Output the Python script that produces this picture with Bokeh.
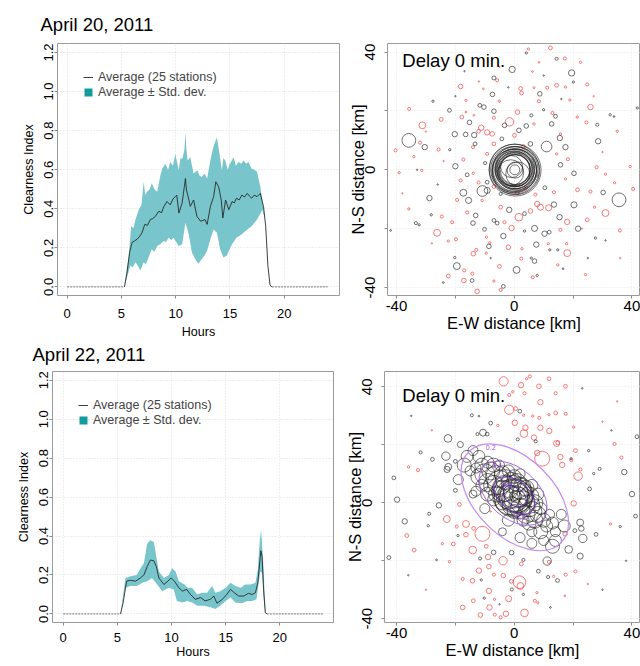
from bokeh.plotting import figure
from bokeh.layouts import column, row
from bokeh.models import Legend, LegendItem, FixedTicker, PrintfTickFormatter, Label, Title
from bokeh.core.properties import value
from bokeh.embed import file_html
from bokeh.resources import INLINE

FONT = "Liberation Sans"
TEAL_BAND = "#79c5cc"
TEAL_KEY = "#119c9c"
RED = "#f24848"
BLACK = "#2e2e2e"
SIZE_SCALE = 1.15
NAN = float("nan")

# ---------------- time-series data (hours, clearness index) ----------------
hour_ticks = [0, 5, 10, 15, 20]
ci_ticks = [0.0, 0.2, 0.4, 0.6, 0.8, 1.0, 1.2]

apr20_hours = [0.0, 5.28, 5.52, 5.77, 5.98, 6.2, 6.44, 6.7, 6.9, 7.15, 7.4, 7.67, 7.9, 8.13, 8.44,
               8.7, 8.9, 9.2, 9.5, 9.75, 9.97, 10.1, 10.3, 10.6, 10.9, 11.0, 11.2, 11.35, 11.65,
               11.96, 12.3, 12.7, 12.9, 13.2, 13.5, 13.7, 13.96, 14.2, 14.35, 14.6, 14.9, 15.2,
               15.4, 15.6, 15.85, 16.1, 16.35, 16.6, 16.8, 17.0, 17.25, 17.5, 17.8, 18.1, 18.3,
               18.5, 18.7, 18.87, 24.0]
apr20_mean = [0, 0, 0.076, 0.18, 0.227, 0.235, 0.244, 0.26, 0.277, 0.32, 0.315, 0.345, 0.35,
              0.361, 0.387, 0.38, 0.41, 0.437, 0.42, 0.45, 0.462, 0.47, 0.378, 0.43, 0.555, 0.496,
              0.45, 0.412, 0.445, 0.361, 0.336, 0.345, 0.32, 0.412, 0.462, 0.538, 0.513, 0.445,
              0.353, 0.445, 0.395, 0.437, 0.43, 0.454, 0.445, 0.47, 0.46, 0.479, 0.465, 0.454,
              0.47, 0.462, 0.479, 0.41, 0.31, 0.109, 0.008, 0, 0]
apr20_upper = [(5.28, 0), (5.67, 0.16), (5.9, 0.31), (6.1, 0.30), (6.3, 0.345), (6.6, 0.395),
               (6.85, 0.42), (7.05, 0.538), (7.2, 0.47), (7.36, 0.487), (7.6, 0.5), (7.8, 0.53),
               (8.05, 0.5), (8.3, 0.487), (8.55, 0.56), (8.75, 0.605), (9.05, 0.63), (9.3, 0.6),
               (9.5, 0.64), (9.75, 0.62), (9.97, 0.68), (10.28, 0.597), (10.45, 0.66),
               (10.6, 0.655), (10.8, 0.7), (10.9, 0.79), (11.0, 0.7), (11.1, 0.647),
               (11.35, 0.664), (11.65, 0.58), (12.0, 0.597), (12.2, 0.57), (12.4, 0.563),
               (12.65, 0.58), (12.9, 0.555), (13.2, 0.647), (13.4, 0.7), (13.56, 0.73),
               (13.8, 0.765), (14.0, 0.697), (14.26, 0.597), (14.4, 0.66), (14.57, 0.647),
               (14.8, 0.6), (15.0, 0.63), (15.34, 0.664), (15.55, 0.62), (15.8, 0.64),
               (16.05, 0.63), (16.26, 0.647), (16.5, 0.63), (16.7, 0.64), (17.0, 0.605),
               (17.25, 0.6), (17.5, 0.59), (17.8, 0.513), (18.1, 0.403), (18.34, 0.294),
               (18.5, 0.11), (18.7, 0)]
apr20_lower = [(5.28, 0), (5.52, 0.05), (5.83, 0.11), (6.05, 0.1), (6.3, 0.126), (6.5, 0.11),
               (6.75, 0.084), (7.05, 0.126), (7.25, 0.115), (7.5, 0.151), (7.8, 0.193),
               (8.05, 0.18), (8.3, 0.21), (8.6, 0.22), (8.9, 0.235), (9.1, 0.23), (9.36, 0.252),
               (9.6, 0.24), (9.8, 0.252), (10.05, 0.23), (10.28, 0.21), (10.6, 0.218),
               (10.9, 0.328), (11.2, 0.269), (11.5, 0.176), (11.8, 0.143), (12.1, 0.118),
               (12.4, 0.143), (12.65, 0.16), (12.9, 0.185), (13.2, 0.244), (13.5, 0.294),
               (13.8, 0.277), (14.1, 0.193), (14.4, 0.151), (14.7, 0.16), (14.95, 0.19),
               (15.2, 0.218), (15.6, 0.252), (16.1, 0.269), (16.6, 0.294), (17.0, 0.31),
               (17.5, 0.345), (18.0, 0.395), (18.3, 0.328), (18.5, 0.11), (18.7, 0)]

apr22_hours = [0.0, 5.29, 5.54, 5.85, 6.2, 6.68, 7.14, 7.45, 7.75, 8.06, 8.37, 8.6, 8.83, 9.3,
               9.66, 9.97, 10.28, 10.68, 11.0, 11.4, 11.75, 12.2, 12.7, 13.1, 13.6, 13.9, 14.2,
               14.7, 15.1, 15.45, 15.8, 16.2, 16.7, 17.1, 17.45, 17.75, 17.97, 18.25, 18.37,
               18.5, 18.66, 18.8, 24.0]
apr22_mean = [0, 0, 0.059, 0.168, 0.173, 0.168, 0.185, 0.2, 0.243, 0.277, 0.273, 0.243, 0.185,
              0.151, 0.168, 0.185, 0.168, 0.134, 0.117, 0.126, 0.1, 0.075, 0.084, 0.067, 0.075,
              0.092, 0.055, 0.075, 0.1, 0.126, 0.109, 0.092, 0.092, 0.106, 0.1, 0.109, 0.16,
              0.325, 0.294, 0.126, 0.008, 0, 0]
apr22_upper = [(5.29, 0), (5.75, 0.185), (6.2, 0.193), (6.8, 0.2), (7.14, 0.235), (7.45, 0.26),
               (7.75, 0.36), (8.06, 0.378), (8.37, 0.37), (8.6, 0.294), (8.83, 0.218),
               (9.3, 0.185), (9.75, 0.2), (10.06, 0.235), (10.37, 0.218), (10.68, 0.168),
               (11.2, 0.151), (11.5, 0.134), (11.9, 0.134), (12.37, 0.1), (12.8, 0.109),
               (13.3, 0.109), (13.75, 0.143), (14.05, 0.109), (14.5, 0.117), (15.0, 0.134),
               (15.45, 0.16), (15.9, 0.143), (16.4, 0.134), (16.8, 0.151), (17.3, 0.151),
               (17.75, 0.16), (17.97, 0.227), (18.15, 0.378), (18.28, 0.43), (18.46, 0.277),
               (18.6, 0.109), (18.7, 0)]
apr22_lower = [(5.29, 0), (5.75, 0.134), (6.2, 0.143), (6.8, 0.143), (7.3, 0.16), (7.75, 0.168),
               (8.2, 0.185), (8.68, 0.151), (9.14, 0.117), (9.75, 0.134), (10.2, 0.126),
               (10.5, 0.067), (11.0, 0.059), (11.45, 0.067), (11.9, 0.059), (12.37, 0.042),
               (13.0, 0.042), (13.6, 0.034), (14.05, 0.025), (14.5, 0.042), (15.0, 0.067),
               (15.45, 0.084), (15.9, 0.059), (16.5, 0.055), (17.0, 0.067), (17.45, 0.067),
               (17.85, 0.075), (18.05, 0.16), (18.2, 0.218), (18.37, 0.21), (18.5, 0.092),
               (18.66, 0)]

# ---------------- scatter data (E-W km, N-S km, marker diameter px) ----------------
km_ticks = [-40, -20, 0, 20, 40]
km_labels = ["-40", "", "0", "", "40"]

apr20_red = [(12.3, 41.4, 3.3), (4.8, 41.0, 2), (17.2, 37.8, 2.7), (22.5, 36.5, 2), (8.4, 36.5, 1.5),
             (6.2, 33.4, 1.5), (-5.8, 30.4, 2.7), (14.4, 28.7, 3.3), (-18.2, 28.3, 4), (2.2, 27.6, 3.3),
             (6.7, 27.9, 1.7), (17.4, 28.1, 2), (24.8, 29.0, 2.7), (11.2, 27.9, 2.7), (-10.5, 27.5, 1.5),
             (2.5, 26.1, 3.3), (-16.4, 23.6, 2), (-5.1, 23.3, 2), (-35.7, 20.7, 2.7), (1.1, 19.6, 4),
             (25.9, 21.3, 4.7), (18.9, 23.7, 2), (-16.4, 19.6, 1.5), (-13.7, 18.5, 1.5), (-17.8, 17.9, 3.3),
             (21.4, 17.9, 2), (8.4, 23.3, 2.7), (13.0, 19.3, 2.7), (-24.8, 17.1, 3.3), (-1.6, 16.3, 7.3),
             (-6.9, 17.7, 2.7), (6.7, 15.6, 2), (-31.2, 15.1, 6), (-11.2, 14.3, 4.7), (-9.2, 12.7, 4.7),
             (-7.5, 12.2, 4), (-12.1, 13.1, 3.3), (0.1, 11.7, 3.3), (24.5, 16.1, 2.7), (15.7, 12.2, 2),
             (35.0, 13.1, 2), (-32.0, 9.2, 2.7), (-40.3, 6.6, 2.7), (-25.7, 6.9, 2.7), (-14.0, 7.7, 2.7),
             (-6.9, 8.8, 3.3), (-9.2, 5.4, 2.7), (3.1, 7.9, 3.3), (14.4, 5.4, 2), (-17.3, 3.5, 2.7),
             (-34.1, 4.5, 2), (18.2, 3.6, 2.7), (28.0, 0.9, 2.7), (39.4, 1.1, 2), (-39.1, -1.0, 2),
             (-31.4, -0.2, 2), (-13.9, -1.2, 2), (-18.2, -3.6, 2.7), (-12.1, -4.3, 2.7), (17.4, -3.1, 2),
             (21.5, -6.8, 3.3), (31.0, -1.5, 2), (34.1, -4.4, 2), (40.4, -6.5, 2.7), (25.9, -7.4, 2.7),
             (-6.9, -5.7, 3.3), (1.0, -7.8, 3.3), (3.9, -6.1, 2.7), (13.5, -7.6, 2.7), (7.2, -8.4, 2.7),
             (-19.4, -10.2, 2.7), (-10.9, -10.4, 2), (7.8, -11.6, 4.7), (8.9, -12.7, 5.3), (11.7, -12.9, 5.3),
             (-4.6, -12.7, 3.3), (5.5, -14.0, 4), (31.0, -14.7, 6), (1.6, -16.1, 6.7), (-24.6, -15.9, 2.7),
             (-16.0, -14.5, 2.7), (-35.8, -13.3, 2), (27.3, -12.7, 2), (-21.1, -17.8, 2.7), (-3.3, -17.8, 2.7),
             (-0.9, -19.8, 4.7), (18.0, -17.7, 4.7), (24.8, -17.0, 3.3), (-26.2, -21.4, 6), (15.7, -20.4, 2.7),
             (-19.8, -23.6, 2.7), (-9.4, -22.9, 2), (35.9, -20.6, 2.7), (-2.0, -26.3, 4), (-12.9, -27.2, 2.7),
             (-8.3, -24.8, 2), (11.6, -25.1, 2), (17.8, -25.1, 2), (18.0, -28.3, 6), (-22.4, -24.2, 2),
             (2.6, -26.8, 2), (-13.9, -28.5, 4), (-9.5, -28.3, 2), (2.4, -30.2, 2.7), (-17.0, -34.2, 2.7),
             (-5.0, -32.8, 3.3), (14.8, -32.3, 2), (-22.4, -36.1, 3.3), (-14.2, -35.3, 2.7), (6.3, -36.5, 2.7),
             (-17.1, -37.6, 4), (-6.9, -37.8, 2), (-4.6, -40.8, 2.7), (-12.6, -41.3, 4), (24.2, -35.6, 2),
             (-30.0, 13.0, 1.2), (-24.0, 3.0, 1.2), (-38.0, -8.0, 1.2), (-12.0, 30.0, 1.2), (8.0, -2.0, 1.2),
             (23.0, -20.0, 1.2), (30.0, 6.0, 1.2), (36.0, -30.0, 1.2), (-5.0, 35.0, 1.2), (27.0, 25.0, 1.2),
             (-28.0, -25.0, 1.2)]

apr20_black = [(4.1, 39.7, 2), (14.4, 37.7, 2.7), (-16.9, 33.5, 1.2), (-0.7, 34.1, 5.5), (19.5, 32.9, 5.5),
               (-6.9, 31.2, 3.5), (20.1, 29.8, 2), (8.7, 25.8, 4), (-7.4, 25.6, 4), (-27.6, 23.3, 2),
               (-11.7, 21.9, 3.3), (-10.3, 21.3, 4), (-22.0, 20.2, 3.3), (-6.9, 19.9, 4), (5.8, 18.5, 2.7),
               (10.0, 20.4, 2), (14.0, 18.2, 3.3), (32.6, 18.7, 2), (33.9, 18.1, 1.5), (-15.2, 16.1, 4),
               (-3.3, 15.1, 4), (4.1, 14.9, 4), (12.7, 15.6, 4), (1.6, 13.4, 4), (-20.2, 12.1, 4.7),
               (-16.5, 12.0, 4), (-13.6, 11.8, 4.7), (-4.2, 10.5, 3.3), (28.2, 15.3, 2.7), (15.5, 10.8, 4.7),
               (28.5, 9.7, 4.7), (-35.8, 10.0, 12), (-30.4, 7.7, 4.7), (-21.9, 6.8, 2), (-13.3, 8.8, 3.3),
               (11.0, 7.9, 9.3), (17.4, 7.7, 4.7), (5.5, 8.8, 4), (-20.0, 1.2, 4.7), (-9.9, 2.3, 2.7),
               (15.7, 1.7, 4), (41.8, 21.0, 2), (-16.0, -1.7, 3.3), (-9.2, -4.2, 3.3), (20.3, -1.2, 4),
               (30.2, -7.7, 4), (-17.3, -7.8, 6), (-10.8, -7.2, 9.3), (-9.2, -7.0, 5.3), (-4.6, -8.2, 2.7),
               (10.4, -6.1, 3.3), (35.6, -10.2, 12), (-28.8, -9.6, 4.7), (-15.5, -10.4, 5.3), (13.5, -11.8, 4.7),
               (20.3, -11.9, 5.3), (-1.7, -13.6, 4.7), (3.5, -14.9, 3.3), (15.4, -16.1, 4.7), (-28.2, -15.3, 2),
               (-13.1, -15.5, 4), (-33.4, -18.1, 2.7), (-32.3, -18.7, 2), (-14.0, -18.1, 4), (-6.9, -17.2, 3.3),
               (-5.8, -18.1, 3.3), (6.9, -19.9, 5.3), (3.5, -20.8, 2), (21.7, -20.0, 4.7), (-10.1, -20.2, 3.3),
               (10.3, -21.7, 4.7), (11.9, -21.2, 3.3), (-3.7, -22.5, 4.7), (27.6, -23.2, 2), (-42.0, -20.6, 1.5),
               (7.5, -25.4, 4.7), (-8.6, -26.0, 4), (12.1, -27.2, 2), (14.8, -27.2, 2), (-20.2, -29.8, 2),
               (-19.5, -32.7, 6), (5.8, -30.0, 2), (6.9, -31.0, 4), (0.8, -34.0, 6), (7.8, -35.9, 2),
               (-14.3, -37.6, 3.3), (-3.7, -39.6, 3.3), (16.6, -33.6, 1.5), (-24.1, -38.3, 1.5),
               (-20.0, 25.0, 1.2), (-2.0, 28.0, 1.2), (16.0, 24.0, 1.2), (-26.0, -5.0, 1.2), (25.0, -30.0, 1.2),
               (31.0, -24.0, 1.2), (-8.0, -30.0, 1.2), (10.0, 32.0, 1.2), (-33.0, 0.0, 1.2)]

apr20_core = [(0.3, -0.1, 52), (0.0, 0.2, 50), (0.5, -0.3, 48), (-0.2, 0.1, 46), (0.4, 0.3, 45),
              (0.1, -0.4, 44), (-0.3, -0.2, 42), (0.6, 0.1, 41), (0.2, 0.4, 40), (-0.1, -0.1, 38),
              (0.4, -0.2, 37), (0.0, 0.3, 36), (0.3, 0.0, 34), (-0.2, 0.2, 33), (0.2, -0.3, 32),
              (0.1, 0.1, 31), (0.3, 0.1, 30), (-1.2, -1.0, 26), (1.2, -1.4, 24), (-0.9, 1.1, 22),
              (0.3, -0.1, 16), (0.2, 0.0, 10)]

apr22_red = [(-3.6, 41.9, 8), (2.3, 40.6, 4.7), (5.3, 43.6, 2.7), (4.2, 42.8, 2), (11.8, 42.8, 3.3),
             (8.4, 40.2, 4), (17.4, 40.2, 3.3), (-1.7, 37.2, 2.7), (-0.5, 38.3, 2), (3.5, 37.8, 2.7),
             (14.1, 37.8, 2.7), (8.9, 34.7, 4.7), (-1.7, 32.1, 8), (0.5, 32.5, 3.3), (3.2, 30.2, 2),
             (6.3, 29.9, 2), (8.5, 29.3, 2.7), (14.1, 31.0, 3.3), (17.5, 30.7, 2.7), (11.8, 30.4, 2),
             (-5.6, 26.7, 2), (0.2, 27.6, 4.7), (3.8, 25.9, 4.7), (8.9, 25.9, 4.7), (11.9, 24.8, 4.7),
             (20.2, 26.1, 2), (3.3, 23.9, 6.7), (6.7, 22.5, 4.7), (14.4, 20.5, 5.3), (14.8, 20.7, 3.3),
             (9.5, 15.2, 13), (7.8, 17.2, 4.7), (15.7, 15.8, 4.7), (19.4, 14.7, 2.7), (20.8, 18.0, 3.3),
             (34.1, 20.3, 2.7), (36.4, 15.6, 2.7), (16.3, 13.1, 4.7), (21.7, 9.2, 7.3), (22.5, 11.5, 2.7),
             (-35.9, 12.4, 2), (-32.7, 11.3, 2.7), (-18.6, -0.6, 3.3), (32.7, -7.3, 2), (20.2, -0.2, 4.7),
             (-22.9, -5.6, 6), (-19.5, -8.2, 2.7), (-16.4, -7.3, 6), (-16.4, -11.0, 4), (-10.8, -10.7, 13),
             (-13.8, -8.8, 3.3), (-36.5, -11.3, 3.3), (-34.0, -16.3, 3.3), (-20.7, -14.2, 3.3), (-24.4, -14.1, 2),
             (17.3, -10.7, 4), (11.8, -20.4, 2.7), (2.4, -21.1, 3.3), (-3.8, -20.0, 7.3), (-8.9, -18.7, 4.7),
             (-9.5, -15.0, 3.3), (-14.1, -16.3, 6.7), (-12.0, -23.4, 4.7), (-17.5, -26.3, 2.7), (-14.2, -26.9, 4),
             (-8.6, -22.0, 4), (-6.9, -24.8, 2.7), (-3.7, -25.1, 4), (1.8, -27.4, 11), (2.1, -28.7, 6),
             (-1.0, -27.1, 3.3), (13.4, -25.4, 2), (17.5, -24.8, 2.7), (20.8, -23.7, 2.7), (-8.6, -30.4, 4.7),
             (-6.7, -33.3, 2), (-1.9, -33.1, 5.3), (-8.4, -36.1, 4.7), (-13.9, -33.8, 3.3), (-17.5, -36.1, 4),
             (-11.5, -38.7, 4), (-6.6, -38.6, 2.7), (-4.6, -39.5, 2.7), (-2.8, -38.3, 4.7), (3.5, -38.0, 6.7),
             (7.0, -33.8, 2.7), (8.0, -34.5, 2), (17.2, -32.1, 1.5), (7.7, -31.0, 2), (-22.0, -20.3, 2),
             (-28.0, 25.0, 1.2), (30.0, 28.0, 1.2), (-30.0, -30.0, 1.2), (25.0, -28.0, 1.2), (35.0, 35.0, 1.2),
             (-8.0, -3.0, 1.2)]

apr22_black = [(23.1, 39.5, 1.3), (1.9, 31.6, 3.3), (-14.4, 30.2, 2.7), (-12.0, 29.9, 1.5), (-8.0, 27.5, 3.3),
               (-10.6, 24.2, 6), (-12.5, 23.7, 2.7), (-9.2, 23.7, 3.3), (7.3, 21.2, 2.7), (1.2, 21.9, 2.7),
               (-22.5, 22.2, 6.7), (-18.3, 20.1, 5.3), (-31.8, 17.4, 2.7), (-27.8, 15.0, 3.3), (-23.2, 16.1, 7.3),
               (-22.4, 12.4, 6), (-22.8, 11.5, 5.3), (-20.0, 14.3, 3.3), (25.3, 18.0, 2), (19.3, 15.2, 2),
               (37.4, 10.6, 4.7), (29.0, 11.7, 2.7), (25.6, 4.8, 3.3), (27.0, 10.1, 2), (-40.9, 8.6, 3.3),
               (-39.8, 1.1, 4.7), (-20.0, 4.3, 3.3), (-25.6, -0.9, 4.7), (40.0, 3.0, 4.7), (41.2, -4.6, 3.3),
               (36.0, -8.2, 2), (-37.2, -6.4, 4.7), (-28.9, -3.8, 2.7), (-29.2, -7.9, 2), (-19.1, -11.3, 2),
               (-26.4, -19.7, 1.5), (-42.6, -18.9, 3.3), (22.4, -6.8, 6), (22.8, -8.9, 4.7), (23.3, -12.3, 7.3),
               (20.6, -9.6, 3.3), (27.8, -10.9, 3.3), (18.5, -16.1, 6.7), (22.4, -18.4, 5.3), (11.2, -20.1, 7.3),
               (8.2, -23.6, 3.3), (3.1, -19.7, 2.7), (-7.0, -17.1, 4), (-0.9, -17.2, 4), (-11.6, -19.2, 2.7),
               (-11.2, -26.6, 2), (-0.8, -29.9, 2.7), (11.5, -25.6, 2.7), (14.7, -26.8, 3.3), (-10.2, -32.9, 2),
               (12.3, -36.1, 1.5), (3.1, -31.6, 2), (41.7, 22.8, 3.3),
               (-35.0, 30.0, 1.2), (30.0, -30.0, 1.2), (38.0, -20.0, 1.2), (-5.0, -35.0, 1.2), (33.0, 25.0, 1.2),
               (-36.0, -25.0, 1.2)]

apr22_cloud = [(-13, 12, 10), (-11, 13, 14), (-9, 14, 12), (-12, 9, 16), (-10, 10, 20), (-8, 11, 18),
               (-7, 13, 14), (-6, 9, 22), (-9, 7, 18), (-11, 6, 12), (-7, 6, 20), (-5, 7, 24), (-4, 10, 16),
               (-3, 8, 20), (-2, 11, 12), (-6, 3, 16), (-4, 4, 22), (-3, 5, 26), (-1, 7, 20), (0, 9, 14),
               (1, 7, 18), (2, 5, 22), (-2, 2, 24), (0, 3, 28), (1, 1, 26), (3, 3, 22), (4, 5, 16), (5, 2, 20),
               (3, 0, 24), (2, -2, 20), (5, -1, 22), (7, 0, 16), (6, -3, 20), (4, -4, 18), (8, -4, 16),
               (9, -2, 12), (7, -6, 16), (10, -6, 14), (11, -8, 12), (5, -7, 14), (3, -6, 12), (0, -3, 14),
               (-1, -1, 18), (-4, 0, 14), (-7, 1, 12), (-9, 3, 14), (8, 3, 12), (6, 6, 12), (-13, 4, 10),
               (12, -4, 10), (9, -10, 14), (13, -7, 12), (-5, 13, 10), (2, 10, 10), (-10, -2, 10), (-2, -6, 12),
               (6, -10, 10), (14, -10, 10), (-16, 16, 12), (-14, 18, 10), (-17, 13, 14), (-15, 11, 10),
               (-12, 16, 12), (-19, 8, 10), (-14, 3, 8), (14, -13, 12), (10, -13, 10), (16, -4, 10),
               (17, -8, 12), (13, -15, 14), (6, -14, 10), (-4, -10, 8), (2, -12, 10),
               (0.0, 2.0, 30), (0.3, 2.3, 34), (-0.3, 1.7, 38), (0.2, 1.5, 26), (-0.5, 2.5, 40),
               (0.4, 2.2, 12), (0.0, 2.0, 8)]

# contour ellipses: centre x, centre y, major, minor, angle (rad)
apr22_ell_x = [0.2, -0.4, 0.0, 0.2]
apr22_ell_y = [1.9, 3.3, 2.5, 2.2]
apr22_ell_w = [44, 27, 16, 9]
apr22_ell_h = [27, 17, 10, 6]
apr22_ell_a = [-0.78, -0.72, -0.7, -0.7]
apr22_lab_x = [-8.0, -5.8, -2.4, 2.1]
apr22_lab_y = [19.2, 13.0, 6.2, -5.0]
apr22_lab_t = ["0.2", "0.4", "0.6", "0.8"]


def style_axes(p, tick_size, label_size):
    p.outline_line_color = "#9a9a9a"
    p.outline_line_width = 1
    p.background_fill_color = "white"
    p.border_fill_color = "white"
    for ax in (p.xaxis[0], p.yaxis[0]):
        ax.axis_line_color = None
        ax.major_tick_line_color = "#8a8a8a"
        ax.major_tick_out = 3
        ax.major_tick_in = 0
        ax.minor_tick_line_color = None
        ax.major_label_text_font = FONT
        ax.major_label_text_font_size = tick_size
        ax.major_label_text_color = "black"
        ax.axis_label_text_font = FONT
        ax.axis_label_text_font_size = label_size
        ax.axis_label_text_font_style = "normal"
        ax.axis_label_text_color = "black"
        ax.major_label_standoff = 1
        ax.axis_label_standoff = 4
    p.yaxis.major_label_orientation = "vertical"
    p.grid.grid_line_color = "#dcdcdc"
    p.grid.grid_line_dash = "1 2"


def make_ts(hours, mean, upper, lower, width, height, xr, yr, bl, br, bt, bb, xst, xast):
    p = figure(width=width, height=height, x_range=xr, y_range=yr, title=None,
               min_border_left=bl, min_border_right=br, min_border_top=bt, min_border_bottom=bb,
               output_backend="svg", toolbar_location=None)
    style_axes(p, "13px", "12.5px")
    p.xaxis.major_label_standoff = xst
    p.xaxis.axis_label_standoff = xast
    p.yaxis.axis_label_standoff = 6
    p.xaxis.major_label_text_line_height = 1.0
    p.xaxis.axis_label_text_line_height = 1.0
    tx = FixedTicker(ticks=hour_ticks)
    ty = FixedTicker(ticks=ci_ticks)
    p.xaxis.ticker = tx
    p.xgrid.ticker = tx
    p.yaxis.ticker = ty
    p.ygrid.ticker = ty
    p.yaxis.formatter = PrintfTickFormatter(format="%.1f")
    p.xaxis.axis_label = "Hours"
    p.yaxis.axis_label = "Clearness Index"

    uh = [a for a, _ in upper]
    uv = [b for _, b in upper]
    lh = [a for a, _ in lower]
    lv = [b for _, b in lower]
    p.patch(uh + lh[::-1], uv + lv[::-1], fill_color=TEAL_BAND, line_color=None)
    p.line(hours[:2], mean[:2], line_color="#777777", line_width=1, line_dash="2 1")
    p.line(hours[-2:], mean[-2:], line_color="#777777", line_width=1, line_dash="2 1")
    r = p.line(hours[1:-1], mean[1:-1], line_color="#2a2a2a", line_width=0.9)
    key = p.quad(left=[NAN], right=[NAN], top=[NAN], bottom=[NAN], fill_color=TEAL_KEY, line_color=None)
    legend = Legend(items=[LegendItem(label="Average (25 stations)", renderers=[r]),
                           LegendItem(label="Average \u00b1 Std. dev.", renderers=[key])],
                    location="top_left", margin=26, padding=0, spacing=0,
                    border_line_color=None, background_fill_alpha=0,
                    glyph_width=10, glyph_height=10, label_height=15, label_standoff=5,
                    label_text_font=FONT, label_text_font_size="12.5px")
    p.add_layout(legend)
    return p


def make_title(text, offset, standoff):
    return Title(text=text, text_font=FONT, text_font_size="18.5px", text_font_style="normal",
                 text_color="black", align="left", offset=offset, standoff=standoff,
                 text_line_height=1.0)


def make_sc(red, black, core, width, height, xr, yr, bl, br, bt, bb, xst):
    p = figure(width=width, height=height, x_range=xr, y_range=yr, title=None,
               min_border_left=bl, min_border_right=br, min_border_top=bt, min_border_bottom=bb,
               output_backend="svg", toolbar_location=None)
    style_axes(p, "15px", "16.5px")
    p.xaxis.axis_label_standoff = 0
    p.yaxis.axis_label_standoff = -4
    p.xaxis.major_label_standoff = xst
    p.yaxis.major_label_standoff = 9
    t = FixedTicker(ticks=km_ticks)
    p.xaxis.ticker = t
    p.yaxis.ticker = t
    p.xgrid.ticker = t
    p.ygrid.ticker = t
    overrides = {k: v for k, v in zip(km_ticks, km_labels)}
    p.xaxis.major_label_overrides = overrides
    p.yaxis.major_label_overrides = overrides
    p.xaxis.axis_label = "E-W distance [km]"
    p.yaxis.axis_label = "N-S distance [km]"
    p.grid.grid_line_color = "#e6e6e6"

    p.scatter(x=[a for a, _, _ in red], y=[b for _, b, _ in red],
              size=[c * SIZE_SCALE for _, _, c in red],
              marker="circle", fill_color=None, line_color=RED, line_width=0.8, line_alpha=0.9)
    p.scatter(x=[a for a, _, _ in black], y=[b for _, b, _ in black],
              size=[c * SIZE_SCALE for _, _, c in black],
              marker="circle", fill_color=None, line_color=BLACK, line_width=0.8, line_alpha=0.85)
    p.scatter(x=[a for a, _, _ in core], y=[b for _, b, _ in core], size=[c for _, _, c in core],
              marker="circle", fill_color=None, line_color="#1a1a1a", line_width=0.8, line_alpha=0.75)
    p.add_layout(Label(x=-38.0, y=37.1, text="Delay 0 min.", text_font=FONT,
                       text_font_size="18.5px", text_baseline="middle", text_color="black"))
    return p


# top row is 366 px tall: it also carries the second panel's date heading below its axis
p1 = make_ts(apr20_hours, apr20_mean, apr20_upper, apr20_lower,
             340, 366, (-0.89, 25.1), (-0.044, 1.246), 57, 1, 41, 69, 10, 4)
p1.add_layout(make_title("April 20, 2011", -17, 18), "above")
p1.add_layout(make_title("April 22, 2011", -25, 0), "below")
p2 = make_sc(apr20_red, apr20_black, apr20_core, 300, 366, (-43.05, 42.9), (-42.7, 42.9), 47, 0, 43, 71, 2)
p3 = make_ts(apr22_hours, apr22_mean, apr22_upper, apr22_lower,
             336, 300, (-0.99, 24.96), (-0.044, 1.245), 52, 3, 5, 39, 7, 0)
p4 = make_sc(apr22_red, apr22_black, apr22_cloud, 304, 300, (-44.07, 42.9), (-41.3, 45.3), 48, 0, 0, 44, 2)

ell_colors = ["#c58cf2", "#a868e6", "#7a2fc0", "#4e1590"]
ell_widths = [1.2, 1.0, 1.0, 1.0]
for i in range(len(apr22_ell_x)):
    p4.ellipse(x=[apr22_ell_x[i]], y=[apr22_ell_y[i]], width=[apr22_ell_w[i]], height=[apr22_ell_h[i]],
               angle=[apr22_ell_a[i]], fill_color=None, line_color=ell_colors[i], line_width=ell_widths[i])
p4.text(x=apr22_lab_x, y=apr22_lab_y, text=apr22_lab_t, text_font=value(FONT), text_font_size="7px",
        text_color="#9a50dc", text_align="center", text_baseline="middle")

layout = column(row(p1, p2), row(p3, p4))
open("out.html", "w").write(file_html(layout, INLINE))
